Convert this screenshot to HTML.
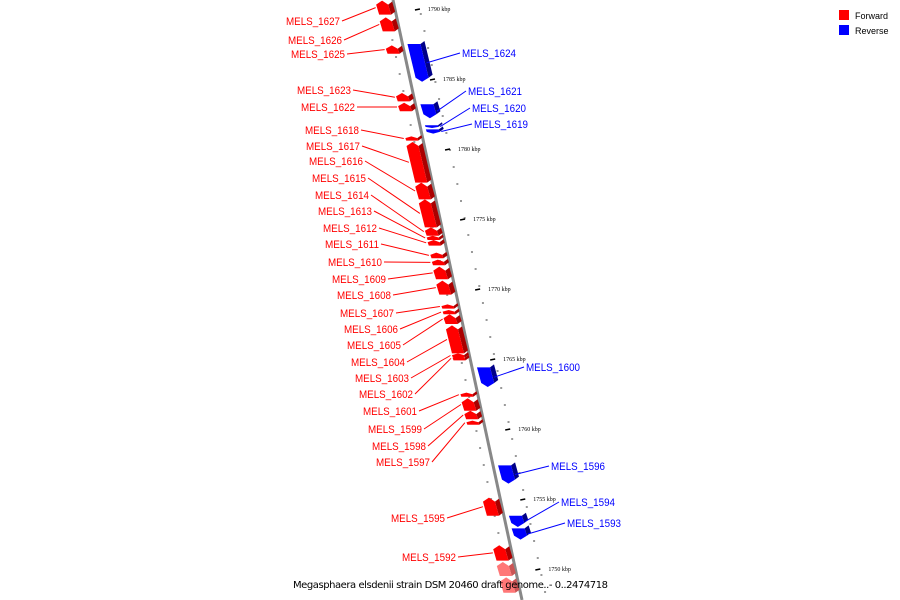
<!DOCTYPE html>
<html><head><meta charset="utf-8"><style>
body{margin:0;background:#fff;}
svg{display:block;font-family:"Liberation Sans",sans-serif;}
</style></head><body>
<svg id="map" width="900" height="600" viewBox="0 0 900 600" xmlns="http://www.w3.org/2000/svg">
<g id="ticks"></g><g id="genes"></g><g id="labels"></g>
<g>
<rect x="839" y="10" width="10" height="10" fill="#f00"/>
<text x="855" y="19" font-size="9">Forward</text>
<rect x="839" y="25" width="10" height="10" fill="#00f"/>
<text x="855" y="34" font-size="9">Reverse</text>
</g>
<text x="293" y="588" font-size="10" textLength="315" font-family="DejaVu Sans,sans-serif">Megasphaera elsdenii strain DSM 20460 draft genome..- 0..2474718</text>
</svg>
<script>
// data
const geneNames=["MELS_1627","MELS_1626","MELS_1625","MELS_1623","MELS_1622","MELS_1618","MELS_1617","MELS_1616","MELS_1615","MELS_1614","MELS_1613","MELS_1612","MELS_1611","MELS_1610","MELS_1609","MELS_1608","MELS_1607","MELS_1606","MELS_1605","MELS_1604","MELS_1603","MELS_1602","MELS_1601","MELS_1599","MELS_1598","MELS_1597","MELS_1595","MELS_1592","","","MELS_1624","MELS_1621","MELS_1620","MELS_1619","MELS_1600","MELS_1596","MELS_1594","MELS_1593"];
const geneStrand=["+","+","+","+","+","+","+","+","+","+","+","+","+","+","+","+","+","+","+","+","+","+","+","+","+","+","+","+","+","+","-","-","-","-","-","-","-","-"];
const geneStartKbp=[1790.6,1789.4,1787.4,1784.0,1783.3,1780.9,1780.5,1777.6,1776.4,1774.4,1773.8,1773.5,1772.6,1772.1,1771.6,1770.6,1768.9,1768.5,1768.2,1767.4,1765.4,1765.2,1762.6,1762.2,1761.3,1760.6,1755.1,1751.7,1750.5,1749.4,1787.5,1783.2,1781.7,1781.4,1764.4,1757.4,1753.8,1752.9];
const geneEndKbp=[1789.6,1788.4,1786.8,1783.4,1782.7,1780.6,1777.6,1776.4,1774.4,1773.8,1773.5,1773.1,1772.2,1771.7,1770.7,1769.6,1768.6,1768.2,1767.5,1765.4,1765.1,1764.9,1762.3,1761.3,1760.7,1760.3,1753.8,1750.6,1749.5,1748.3,1784.8,1782.2,1781.5,1781.1,1763.0,1756.1,1753.0,1752.1];
const tickKbp=[1790,1785,1780,1775,1770,1765,1760,1755,1750];
const tickLabels=["1790 kbp","1785 kbp","1780 kbp","1775 kbp","1770 kbp","1765 kbp","1760 kbp","1755 kbp","1750 kbp"];
// layout (label anchor positions)
const labelX=[340,342,345,351,355,359,360,363,366,369,372,377,379,382,386,391,394,398,401,405,409,413,417,422,426,430,445,456,0,0,462,468,472,474,526,551,561,567];
const labelY=[21,40,54,90,107,130,146,161,178,195,211,228,244,262,279,295,313,329,345,362,378,394,411,429,446,462,518,557,0,0,53,91,108,124,367,466,502,523];
const NS="http://www.w3.org/2000/svg";
const ky=k=>9+(1790-k)*14;
const bb=y=>393+0.215*y;
function mk(t,a,p){const e=document.createElementNS(NS,t);for(const k in a)e.setAttribute(k,a[k]);p.appendChild(e);return e;}
const svgEl=document.getElementById('map');
const tg=document.getElementById('ticks'),gg=document.getElementById('genes'),lg=document.getElementById('labels');
for(let y=5;y<600;y+=17){mk('rect',{x:bb(y)-10,y:y,width:2,height:2,fill:'#999'},tg);mk('rect',{x:bb(y+8)+24,y:y+8,width:2,height:2,fill:'#999'},tg);}
const bl=mk('line',{x1:bb(0),y1:0,x2:bb(600),y2:600,stroke:'#888','stroke-width':3},svgEl);


svgEl.insertBefore(bl,gg);
tickKbp.forEach((k,i)=>{const y=ky(k);
 const d=mk('line',{x1:bb(y)+20,y1:y+1,x2:bb(y)+25,y2:y,stroke:'#000','stroke-width':1.5},tg);
 
 
 const t=mk('text',{x:bb(y)+33,y:y+2,'font-size':'6','font-family':'Liberation Serif,serif'},tg);
 t.textContent=tickLabels[i];
 
 });
geneNames.forEach((n,i)=>{
 const fwd=geneStrand[i]=="+";
 const y1=ky(geneStartKbp[i]),y2=ky(geneEndKbp[i]);
 const col=fwd?(n?'#f00':'#f77'):'#00f',dk=fwd?(n?'#a00':'#c55'):'#008';
 const o1=fwd?-17:5,o2=fwd?-5:18,h=Math.min(4,(y2-y1)/2.5);
 const m=(o1+o2)/2;
 let pts;
 if(fwd)pts=[[bb(y1)+o1,y1+h],[bb(y1)+m,y1],[bb(y1)+o2,y1+h],[bb(y2)+o2,y2],[bb(y2)+o1,y2]];
 else pts=[[bb(y1)+o1,y1],[bb(y1)+o2,y1],[bb(y2)+o2,y2-h],[bb(y2)+m,y2],[bb(y2)+o1,y2-h]];
 const g=mk('g',{},gg);
 
 
 const a=fwd?pts[2]:pts[1],b=fwd?pts[3]:pts[2];
 mk('polygon',{points:[[a[0],a[1]],[b[0],b[1]],[b[0]+4,b[1]-3],[a[0]+4,a[1]-3]].map(p=>p.join(',')).join(' '),fill:dk},g);
 mk('polygon',{points:pts.map(p=>p.join(',')).join(' '),fill:col},g);
 if(n){const lx=labelX[i],ly=labelY[i],gy=(y1+y2)/2;
  mk('line',{x1:fwd?lx+2:lx-2,y1:ly,x2:fwd?bb(gy)-19:bb(gy)+20,y2:gy,stroke:col,'stroke-width':1},lg);
  const t=mk('text',{x:lx,y:ly+4,'font-size':11,fill:col,'text-anchor':fwd?'end':'start',textLength:54,lengthAdjust:'spacingAndGlyphs'},lg);
  t.textContent=n;
  
  }
});
</script>
</body></html>
